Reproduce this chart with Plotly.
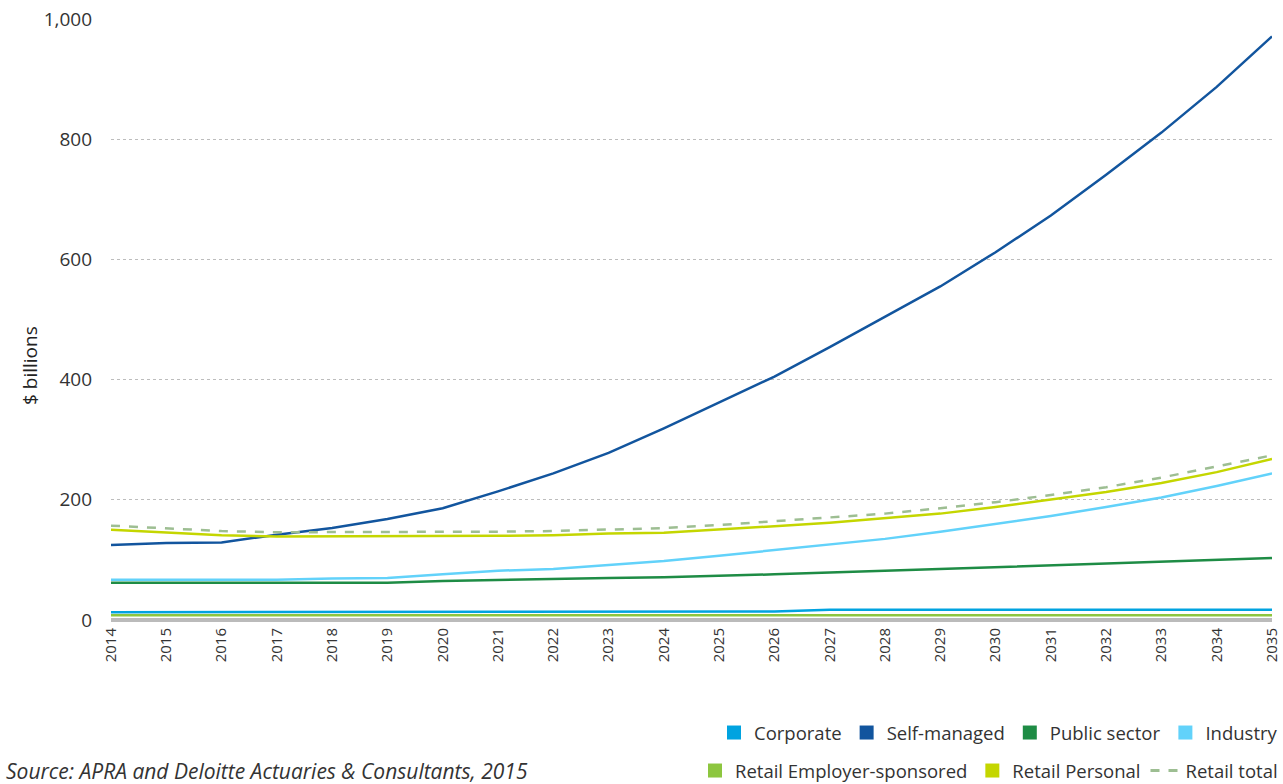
import plotly.graph_objects as go

years = list(range(2014, 2036))
corporate = [13, 13, 13, 13, 13, 13, 13, 13, 13, 13, 13, 13, 14, 17, 17, 17, 17, 17, 17, 17, 17, 17]
self_managed = [125, 128, 129, 142, 153, 168, 186, 214, 244, 278, 319, 362, 405, 454, 505, 555, 612, 673, 741, 811, 887, 971]
public_sector = [62, 62, 62, 62, 62, 62, 65, 67, 68, 70, 71, 73, 76, 79, 82, 85, 88, 91, 94, 97, 100, 103]
industry = [67, 67, 67, 67, 69, 70, 76, 82, 85, 91, 98, 107, 116, 125, 135, 147, 160, 173, 188, 204, 223, 244]
retail_employer = [8, 8, 8, 8, 8, 8, 8, 8, 8, 8, 8, 8, 8, 8, 8, 8, 8, 8, 8, 8, 8, 8]
retail_personal = [150, 146, 141, 139, 139, 139, 139, 140, 141, 144, 145, 150, 156, 162, 169, 177, 188, 200, 213, 228, 246, 268]
retail_total = [157, 153, 148, 146, 146, 146, 146, 147, 148, 151, 153, 158, 164, 170, 177, 186, 196, 208, 221, 237, 255, 274]

names = ["Corporate", "Self-managed", "Public sector", "Industry",
         "Retail Employer-sponsored", "Retail Personal", "Retail total"]
colors = ["#00A3E0", "#12559E", "#1E8C45", "#62D2FA", "#8DC63F", "#C4D600", "#9DBE92"]
series = [corporate, self_managed, public_sector, industry, retail_employer, retail_personal, retail_total]

FONT = "Open Sans"
fig = go.Figure()

for n, c, s in zip(names, colors, series):
    fig.add_trace(go.Scatter(
        x=years, y=s, mode="lines", name=n, showlegend=False,
        line=dict(color=c, width=2.5, dash="dash" if n == "Retail total" else "solid"),
    ))

# legend entries
for i, (n, c) in enumerate(zip(names, colors)):
    lg = "legend" if i < 4 else "legend2"
    if n == "Retail total":
        fig.add_trace(go.Scatter(x=[None], y=[None], mode="lines", name=n, legend=lg,
                                 line=dict(color=c, width=3, dash="dash")))
    else:
        fig.add_trace(go.Scatter(x=[None], y=[None], mode="markers", name=n, legend=lg,
                                 marker=dict(color=c, symbol="square", size=14)))

leg_font = dict(family=FONT, size=18.5, color="#333333")
fig.update_layout(
    width=1283, height=784,
    margin=dict(l=111, r=11, t=19, b=164),
    paper_bgcolor="white", plot_bgcolor="white",
    font=dict(family=FONT, size=16, color="#333333"),
    legend=dict(orientation="h", xref="container", yref="container",
                x=1.0, xanchor="right", y=1 - 733 / 784, yanchor="middle",
                font=leg_font, itemwidth=30, bgcolor="rgba(0,0,0,0)"),
    legend2=dict(orientation="h", xref="container", yref="container",
                 x=1.0, xanchor="right", y=1 - 771 / 784, yanchor="middle",
                 font=leg_font, itemwidth=30, bgcolor="rgba(0,0,0,0)"),
    xaxis=dict(range=[2014, 2035], tickmode="array", tickvals=years,
               ticktext=[str(y) for y in years], tickangle=-90,
               showgrid=False, zeroline=False, showline=False, ticks="",
               ticklabelstandoff=4, automargin=False,
               tickfont=dict(size=15, color="#333333")),
    yaxis=dict(range=[0, 1000], tickvals=[0, 200, 400, 600, 800, 1000], tickformat=",",
               showgrid=True, gridcolor="#BDBDBD", griddash="dot", gridwidth=1,
               zeroline=True, zerolinecolor="#BBBBBB", zerolinewidth=4,
               ticks="", ticklabelstandoff=18, automargin=False,
               tickfont=dict(size=19, color="#333333")),
    annotations=[
        dict(text="<i>Source: APRA and Deloitte Actuaries &amp; Consultants, 2015</i>",
             xref="paper", yref="paper", x=(4 - 111) / 1161, y=(620 - 771) / 601,
             xanchor="left", yanchor="middle", showarrow=False,
             font=dict(size=21, color="#333333")),
        dict(text="$ billions", textangle=-90,
             xref="paper", yref="paper", x=(30 - 111) / 1161, y=(620 - 366) / 601,
             xanchor="center", yanchor="middle", showarrow=False,
             font=dict(size=19, color="#222222")),
    ],
)

fig.write_html("out.html")
